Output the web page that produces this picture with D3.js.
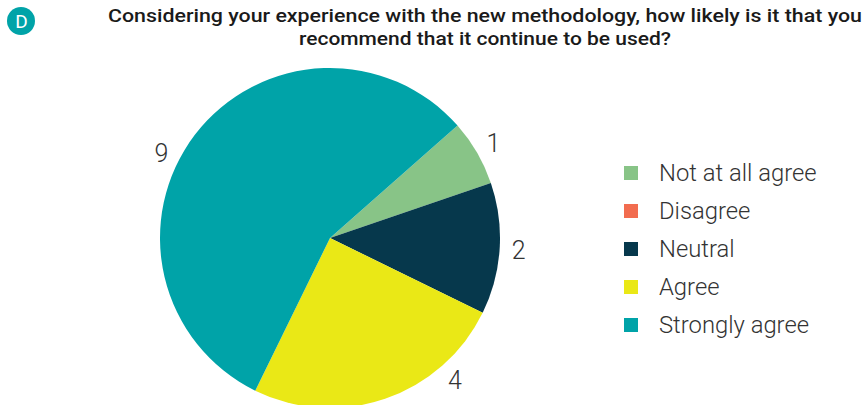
<!DOCTYPE html>
<html>
<head>
<meta charset="utf-8">
<script src="https://cdn.jsdelivr.net/npm/d3@7"></script>
<style>
  html, body { margin: 0; padding: 0; background: #fff; }
  svg { display: block; font-family: Roboto, "Noto Sans", sans-serif; }
</style>
</head>
<body>
<svg id="chart" width="867" height="405"></svg>
<script>
// Survey answers
const categories = ["Not at all agree", "Disagree", "Neutral", "Agree", "Strongly agree"];
const counts = [1, 0, 2, 4, 9];
const colors = ["#88c487", "#f26c4f", "#06384c", "#eae816", "#00a3a8"];
// Nudge of each value label around the rim, in degrees
const labelShift = [0, 0, 0, -22.5, -10.5];

const titleLines = [
  "Considering your experience with the new methodology, how likely is it that you",
  "recommend that it continue to be used?"
];

const svg = d3.select("#chart");

// Panel badge
svg.append("circle").attr("cx", 21).attr("cy", 21).attr("r", 14).attr("fill", "#00a3a8");
svg.append("text").attr("x", 21.5).attr("y", 28).attr("text-anchor", "middle")
  .attr("font-size", 19).attr("font-weight", 400).attr("fill", "#fff").text("D");

// Title
svg.append("g").selectAll("text").data(titleLines).join("text")
  .attr("x", 485).attr("y", (d, i) => 22 + i * 23)
  .attr("text-anchor", "middle")
  .attr("font-size", 19).attr("font-weight", 500).attr("fill", "#1a1a1a")
  .attr("textLength", (d, i) => i === 0 ? 754 : 372)
  .attr("lengthAdjust", "spacingAndGlyphs")
  .text(d => d);

// Pie
const cx = 330, cy = 238, radius = 170;
const startDeg = 48.6;
const pie = d3.pie().sort(null).value(d => d)
  .startAngle(startDeg * Math.PI / 180)
  .endAngle((startDeg + 360) * Math.PI / 180);
const arcs = pie(counts);
const arc = d3.arc().innerRadius(0).outerRadius(radius);

const g = svg.append("g").attr("transform", `translate(${cx},${cy})`);
g.selectAll("path").data(arcs).join("path")
  .attr("d", arc)
  .attr("fill", (d, i) => colors[i]);

// Value labels outside the rim
const labelR = 189;
g.selectAll("text.val").data(arcs.filter(d => d.data > 0)).join("text")
  .attr("class", "val")
  .attr("transform", d => {
    const a = (d.startAngle + d.endAngle) / 2 + labelShift[d.index] * Math.PI / 180;
    return `translate(${labelR * Math.sin(a)},${-labelR * Math.cos(a)})`;
  })
  .attr("text-anchor", "middle").attr("dy", "0.36em")
  .attr("font-size", 25).attr("font-weight", 300).attr("fill", "#333")
  .text(d => d.data);

// Legend
const legend = svg.append("g").attr("transform", "translate(624,173)");
const rows = legend.selectAll("g").data(categories).join("g")
  .attr("transform", (d, i) => `translate(0,${i * 38})`);
rows.append("rect").attr("x", 0).attr("y", -7).attr("width", 14).attr("height", 14)
  .attr("fill", (d, i) => colors[i]);
rows.append("text").attr("x", 35).attr("y", 0).attr("dy", "0.35em")
  .attr("font-size", 23.8).attr("font-weight", 300).attr("fill", "#333")
  .text(d => d);
</script>
</body>
</html>
